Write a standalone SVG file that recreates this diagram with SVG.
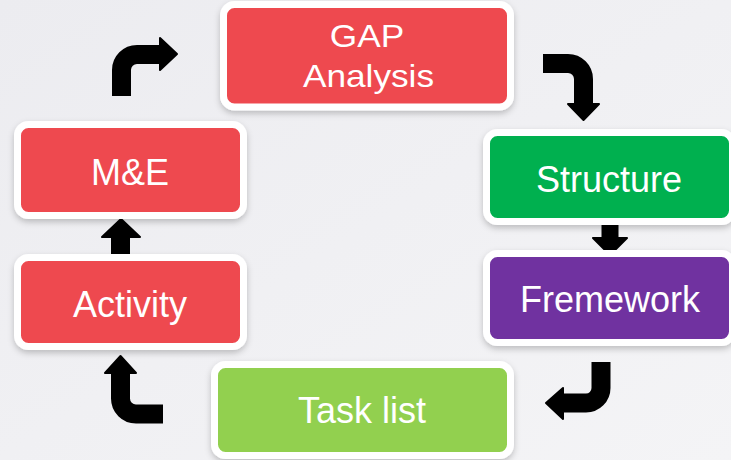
<svg xmlns="http://www.w3.org/2000/svg" width="731" height="460" viewBox="0 0 731 460">
  <defs>
    <linearGradient id="bg" x1="0" y1="0" x2="1" y2="1">
      <stop offset="0" stop-color="#ECECF0"/>
      <stop offset="1" stop-color="#F4F4F6"/>
    </linearGradient>
    <filter id="sh" x="-10%" y="-10%" width="120%" height="130%">
      <feDropShadow dx="0" dy="3" stdDeviation="3" flood-color="#000" flood-opacity="0.22"/>
    </filter>
  </defs>
  <style>
    .box { stroke: #FFFFFF; stroke-width: 7; filter: url(#sh); }
    .red { fill: #EE4A50; }
    .green { fill: #00B050; }
    .purple { fill: #7030A0; }
    .lime { fill: #92D050; }
    .lbl { font-family: "Liberation Sans", Arial, sans-serif; font-size: 36px; fill: #FFFFFF; text-anchor: middle; }
    .shaft { fill: none; stroke: #000; stroke-width: 19; stroke-linecap: butt; }
    .head { fill: #000; stroke: #000; stroke-width: 2; stroke-linejoin: round; }
  </style>
  <rect width="731" height="460" fill="url(#bg)"/>

  <g id="connectors">
    <!-- M&E to GAP Analysis -->
    <path class="shaft" d="M121.5,96 V70 A15.5,15.5 0 0 1 137,54.5 H161"/>
    <polygon class="head" points="160,38 177,54 160,70"/>
    <!-- GAP Analysis to Structure -->
    <path class="shaft" d="M543,63.5 H568 A15.5,15.5 0 0 1 583.5,79 V104"/>
    <polygon class="head" points="568,104 599,104 583.5,120"/>
    <!-- Structure to Fremework -->
    <path class="shaft" style="stroke-width:17" d="M610,215 V239"/>
    <polygon class="head" points="593,238 627,238 610,255"/>
    <!-- Fremework to Task list -->
    <path class="shaft" d="M601,362 V388 A15,15 0 0 1 586,403 H562"/>
    <polygon class="head" points="563,388 563,419 546,403"/>
    <!-- Task list to Activity -->
    <path class="shaft" d="M163,414 H136 A15.5,15.5 0 0 1 120.5,398.5 V372"/>
    <polygon class="head" points="105,373 136,373 120.5,356"/>
    <!-- Activity to M&E -->
    <path class="shaft" d="M120.5,256 V236"/>
    <polygon class="head" points="102,237 140,237 121,219"/>
  </g>

  <g id="gap-analysis">
    <rect class="box red" x="223.5" y="4.5" width="287" height="102.5" rx="11"/>
    <text class="lbl" x="367" y="47" style="font-size:32px" transform="translate(367 0) scale(1.1 1) translate(-367 0)">GAP</text>
    <text class="lbl" x="368.5" y="87" style="font-size:32px" transform="translate(368.5 0) scale(1.1 1) translate(-368.5 0)">Analysis</text>
  </g>
  <g id="structure">
    <rect class="box green" x="486.5" y="132.5" width="246" height="89" rx="11"/>
    <text class="lbl" x="609" y="192">Structure</text>
  </g>
  <g id="fremework">
    <rect class="box purple" x="486.5" y="253.5" width="246" height="89" rx="11"/>
    <text class="lbl" x="610" y="312">Fremework</text>
  </g>
  <g id="task-list">
    <rect class="box lime" x="214.5" y="364.5" width="296" height="91" rx="11"/>
    <text class="lbl" x="362" y="423">Task list</text>
  </g>
  <g id="activity">
    <rect class="box red" x="17.5" y="257.5" width="226" height="89" rx="11"/>
    <text class="lbl" x="130" y="317">Activity</text>
  </g>
  <g id="m-and-e">
    <rect class="box red" x="17.5" y="124.5" width="226" height="91" rx="11"/>
    <text class="lbl" x="130" y="185">M&amp;E</text>
  </g>
</svg>
